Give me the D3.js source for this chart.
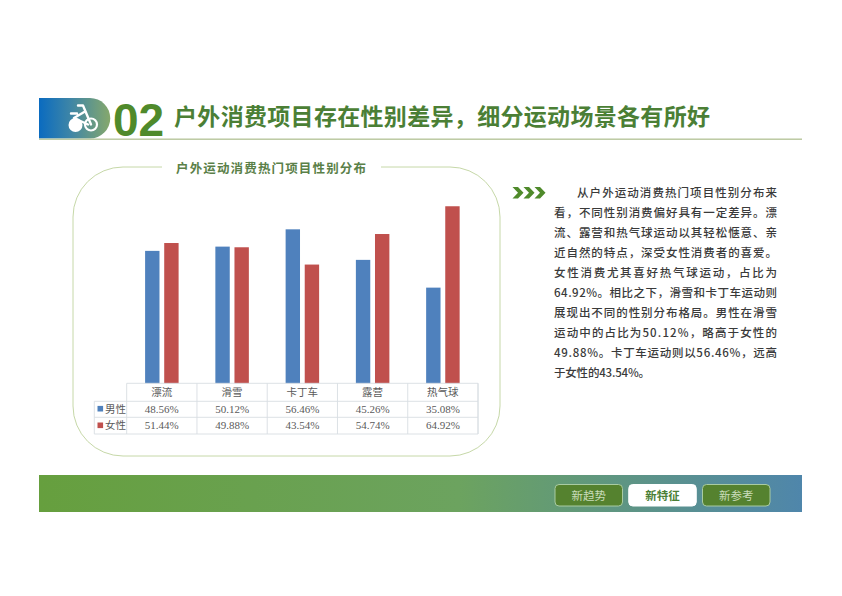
<!DOCTYPE html>
<html>
<head>
<meta charset="utf-8">
<script src="https://cdn.jsdelivr.net/npm/d3@7"></script>
<style>
  html, body { margin: 0; padding: 0; background: #fff; }
  svg { display: block; }
  text { font-family: "Noto Sans CJK SC", sans-serif; }
</style>
</head>
<body>
<div id="chart"></div>
<script>
// data
const categories = ['漂流', '滑雪', '卡丁车', '露营', '热气球'];
const seriesNames = ['男性', '女性'];
const maleValues = [48.56, 50.12, 56.46, 45.26, 35.08];
const femaleValues = [51.44, 49.88, 43.54, 54.74, 64.92];
const seriesColors = ['#4f81bd', '#c0504d'];
const navLabels = ['新趋势', '新特征', '新参考'];
const headline = '户外消费项目存在性别差异，细分运动场景各有所好';
const chartTitle = '户外运动消费热门项目性别分布';
const bodyLines = [
  '从户外运动消费热门项目性别分布来',
  '看，不同性别消费偏好具有一定差异。漂',
  '流、露营和热气球运动以其轻松惬意、亲',
  '近自然的特点，深受女性消费者的喜爱。',
  '女性消费尤其喜好热气球运动，占比为',
  '64.92%。相比之下，滑雪和卡丁车运动则',
  '展现出不同的性别分布格局。男性在滑雪',
  '运动中的占比为50.12%，略高于女性的',
  '49.88%。卡丁车运动则以56.46%，远高',
  '于女性的43.54%。'
];

const svg = d3.select('#chart').append('svg').attr('width', 842).attr('height', 596);
const defs = svg.append('defs');

function gradient(id, stops) {
  const g = defs.append('linearGradient').attr('id', id);
  stops.forEach(s => g.append('stop').attr('offset', s[0]).attr('stop-color', s[1]));
}
gradient('pill', [[0, '#0a6bc0'], [0.45, '#3f86a6'], [1, '#86a86c']]);
gradient('band', [[0, '#669f3e'], [0.55, '#6ca35f'], [1, '#4f86ab']]);

// header
svg.append('path')
  .attr('d', 'M39,98H90A20,20 0 0 1 90,138.500H39Z')
  .attr('fill', 'url(#pill)');
svg.append('rect').attr('x', 39).attr('y', 138.5).attr('width', 763).attr('height', 1.4).attr('fill', '#b7c69c');

// bike icon
const bike = svg.append('g').attr('fill', 'none').attr('stroke', '#fff').attr('stroke-linecap', 'round').attr('stroke-linejoin', 'round');
bike.append('circle').attr('cx', 75.5).attr('cy', 125).attr('r', 7).attr('fill', '#fff').attr('stroke', 'none');
bike.append('circle').attr('cx', 91).attr('cy', 124.500).attr('r', 6).attr('stroke-width', 2.2);
bike.append('path').attr('stroke-width', 2.4).attr('d', 'M78,105.500H83L91,124.500M85,111.500L74,118L88,124.500M71,113.500H77');

svg.append('text').attr('x', 113).attr('y', 136)
  .attr('font-size', 46).attr('font-weight', 700).attr('fill', '#4f8a2b')
  .style('font-family', '"Liberation Sans", sans-serif').text('02');
svg.append('text').attr('x', 174).attr('y', 125)
  .attr('font-size', 23).attr('font-weight', 700).attr('fill', '#4b7f35')
  .attr('textLength', 536).attr('lengthAdjust', 'spacing').text(headline);

// rounded panel, with a gap for the title
svg.append('path')
  .attr('d', 'M162,167H123A50,50 0 0 0 73,217V406A50,50 0 0 0 123,456H450A50,50 0 0 0 500,406V217A50,50 0 0 0 450,167H381')
  .attr('fill', 'none').attr('stroke', '#c6d8a8').attr('stroke-width', 1);
svg.append('text').attr('x', 176).attr('y', 173)
  .attr('font-size', 12.500).attr('font-weight', 700).attr('fill', '#5a8048')
  .attr('textLength', 190).attr('lengthAdjust', 'spacing').text(chartTitle);

// scales
const x0 = d3.scaleBand().domain(categories).range([126.7, 478]);
const x1 = d3.scaleBand().domain(seriesNames).range([18.4, 51.9]).paddingInner(0.247);
const y = d3.scaleLinear().domain([0, 70]).range([383.3, 192.4]);
const rowY = d3.scalePoint().domain(['head'].concat(seriesNames)).range([392.3, 425.5]);

// bars
const valuesBySeries = [maleValues, femaleValues];
seriesNames.forEach((name, s) => {
  svg.append('g').selectAll('rect')
    .data(categories)
    .enter()
    .append('rect')
    .attr('x', d => x0(d) + x1(name))
    .attr('width', x1.bandwidth())
    .attr('y', (d, i) => y(valuesBySeries[s][i]))
    .attr('height', (d, i) => y(0) - y(valuesBySeries[s][i]))
    .attr('fill', seriesColors[s]);
});

// data table
const grid = svg.append('g').attr('stroke', '#d8dee2').attr('stroke-width', 0.9).attr('fill', 'none');
grid.append('path').attr('d', 'M126.700,383.300H478V434H94.300V401.300H478M94.300,417.300H478M126.700,383.300V434');
categories.forEach(c => {
  grid.append('line').attr('x1', x0(c) + x0.bandwidth()).attr('x2', x0(c) + x0.bandwidth()).attr('y1', 383.3).attr('y2', 434);
});

svg.append('g').selectAll('text')
  .data(categories)
  .enter()
  .append('text')
  .attr('x', d => x0(d) + x0.bandwidth() / 2)
  .attr('y', rowY('head') + 3.6)
  .attr('text-anchor', 'middle')
  .attr('font-size', 10.500)
  .attr('fill', '#5a5a5a')
  .text(d => d);

seriesNames.forEach((name, s) => {
  svg.append('rect').attr('x', 97.5).attr('y', rowY(name) - 3).attr('width', 5.6).attr('height', 5.6).attr('fill', seriesColors[s]);
  svg.append('text').attr('x', 105).attr('y', rowY(name) + 3.6)
    .attr('font-size', 10.500).attr('fill', '#5a5a5a').text(name);
  svg.append('g').selectAll('text')
    .data(valuesBySeries[s])
    .enter()
    .append('text')
    .attr('x', (d, i) => x0(categories[i]) + x0.bandwidth() / 2)
    .attr('y', rowY(name) + 3.6)
    .attr('text-anchor', 'middle')
    .attr('font-size', 11)
    .attr('fill', '#5a5a5a')
    .style('font-family', '"Liberation Serif", serif')
    .text(d => d.toFixed(2) + '%');
});

// chevrons
const chevrons = [0, 1, 2];
svg.append('g').selectAll('path')
  .data(chevrons)
  .enter()
  .append('path')
  .attr('d', d => {
    const a = 512.5 + d * 11;
    return `M${a},187h5.500l5.500,5.750l-5.500,5.750h-5.500l5.500,-5.750z`;
  })
  .attr('fill', '#4f8a2b');

// body text
svg.append('g').selectAll('text')
  .data(bodyLines)
  .enter()
  .append('text')
  .attr('x', (d, i) => i === 0 ? 577 : 554)
  .attr('y', (d, i) => 196.500 + i * 20)
  .attr('font-size', 11.500)
  .attr('font-weight', 500)
  .attr('fill', '#3a3a3a')
  .attr('lengthAdjust', 'spacing')
  .attr('textLength', (d, i) => i === 0 ? 200 : i === bodyLines.length - 1 ? 96 : 223)
  .text(d => d);

// bottom band
svg.append('rect').attr('x', 39).attr('y', 475).attr('width', 763).attr('height', 37).attr('fill', 'url(#band)');
const navX = d3.scalePoint().domain(navLabels).range([555, 702.5]);
navLabels.forEach((label, i) => {
  const active = i === 1;
  svg.append('rect').attr('x', navX(label)).attr('y', 484.500).attr('width', 67.500).attr('height', 21.500).attr('rx', 4)
    .attr('fill', active ? '#fff' : '#55822f')
    .attr('stroke', active ? '#fff' : '#a9cba2').attr('stroke-width', 1);
  svg.append('text').attr('x', navX(label) + 33.7).attr('y', 499.500)
    .attr('text-anchor', 'middle').attr('font-size', 11.500)
    .attr('font-weight', active ? 700 : 400)
    .attr('fill', active ? '#4b7f35' : '#c9dcba')
    .text(label);
});
</script>
</body>
</html>
